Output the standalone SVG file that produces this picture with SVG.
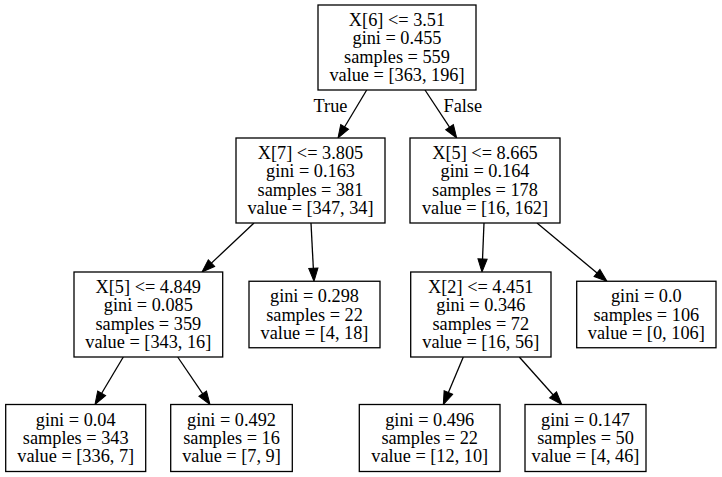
<svg xmlns="http://www.w3.org/2000/svg" width="722" height="477" viewBox="0 0 722 477">
<defs>
<marker id="arr" markerUnits="userSpaceOnUse" markerWidth="14" markerHeight="10" refX="11" refY="0" viewBox="0 -5 14 10" orient="auto" overflow="visible">
<path d="M0,-4.6 L13,0 L0,4.6 z" fill="#000" stroke="#000" stroke-width="1"/>
</marker>
<style>
rect{fill:#fff;stroke:#000;stroke-width:1.3}
text{font-family:"Liberation Serif","Times New Roman",serif;font-size:18.3px;fill:#000;text-anchor:middle}
.e line{stroke:#000;stroke-width:1.3;marker-end:url(#arr)}
</style>
</defs>
<rect x="0" y="0" width="722" height="477" style="fill:#fff;stroke:none"/>
<g id="edges" class="e">
<line x1="366.7" y1="90" x2="339.03" y2="136.28"/>
<line x1="425" y1="90" x2="455.6" y2="136.33"/>
<line x1="254" y1="223" x2="203.46" y2="270.63"/>
<line x1="311" y1="223" x2="313.9" y2="279.3"/>
<line x1="484" y1="223" x2="482.08" y2="270"/>
<line x1="537" y1="223" x2="605.46" y2="280.02"/>
<line x1="123.3" y1="357" x2="96.02" y2="402.78"/>
<line x1="177.7" y1="357" x2="208.88" y2="402.85"/>
<line x1="463.3" y1="357" x2="444.08" y2="402.66"/>
<line x1="519.3" y1="357" x2="560.37" y2="402.99"/>
<text x="330.5" y="112">True</text>
<text x="462.8" y="112">False</text>
</g>
<g id="node0">
<rect x="318" y="5" width="158" height="85"/>
<text x="397" y="26">X[6] &lt;= 3.51</text>
<text x="397" y="44.35">gini = 0.455</text>
<text x="397" y="62.7">samples = 559</text>
<text x="397" y="81.05">value = [363, 196]</text>
</g>
<g id="node1">
<rect x="236" y="138" width="149" height="85"/>
<text x="310.5" y="159">X[7] &lt;= 3.805</text>
<text x="310.5" y="177.35">gini = 0.163</text>
<text x="310.5" y="195.7">samples = 381</text>
<text x="310.5" y="214.05">value = [347, 34]</text>
</g>
<g id="node2">
<rect x="74" y="272" width="148.7" height="85"/>
<text x="148.3" y="293">X[5] &lt;= 4.849</text>
<text x="148.3" y="311.35">gini = 0.085</text>
<text x="148.3" y="329.7">samples = 359</text>
<text x="148.3" y="348.05">value = [343, 16]</text>
</g>
<g id="node3">
<rect x="5.7" y="404.5" width="140" height="67"/>
<text x="75.7" y="425.7">gini = 0.04</text>
<text x="75.7" y="444">samples = 343</text>
<text x="75.7" y="462.4">value = [336, 7]</text>
</g>
<g id="node4">
<rect x="170.7" y="404.5" width="121.6" height="67"/>
<text x="231.5" y="425.7">gini = 0.492</text>
<text x="231.5" y="444">samples = 16</text>
<text x="231.5" y="462.4">value = [7, 9]</text>
</g>
<g id="node5">
<rect x="249" y="281.25" width="131" height="66.5"/>
<text x="314.5" y="302.3">gini = 0.298</text>
<text x="314.5" y="320.6">samples = 22</text>
<text x="314.5" y="338.9">value = [4, 18]</text>
</g>
<g id="node6">
<rect x="410" y="138" width="150" height="85"/>
<text x="485" y="159">X[5] &lt;= 8.665</text>
<text x="485" y="177.35">gini = 0.164</text>
<text x="485" y="195.7">samples = 178</text>
<text x="485" y="214.05">value = [16, 162]</text>
</g>
<g id="node7">
<rect x="410.7" y="272" width="140.3" height="85"/>
<text x="480.8" y="293">X[2] &lt;= 4.451</text>
<text x="480.8" y="311.35">gini = 0.346</text>
<text x="480.8" y="329.7">samples = 72</text>
<text x="480.8" y="348.05">value = [16, 56]</text>
</g>
<g id="node8">
<rect x="359.3" y="404.5" width="140.7" height="67"/>
<text x="429.7" y="425.7">gini = 0.496</text>
<text x="429.7" y="444">samples = 22</text>
<text x="429.7" y="462.4">value = [12, 10]</text>
</g>
<g id="node9">
<rect x="525" y="404.5" width="121" height="67"/>
<text x="585.5" y="425.7">gini = 0.147</text>
<text x="585.5" y="444">samples = 50</text>
<text x="585.5" y="462.4">value = [4, 46]</text>
</g>
<g id="node10">
<rect x="576.7" y="281.25" width="139.3" height="66.5"/>
<text x="646.3" y="302.3">gini = 0.0</text>
<text x="646.3" y="320.6">samples = 106</text>
<text x="646.3" y="338.9">value = [0, 106]</text>
</g>
</svg>
